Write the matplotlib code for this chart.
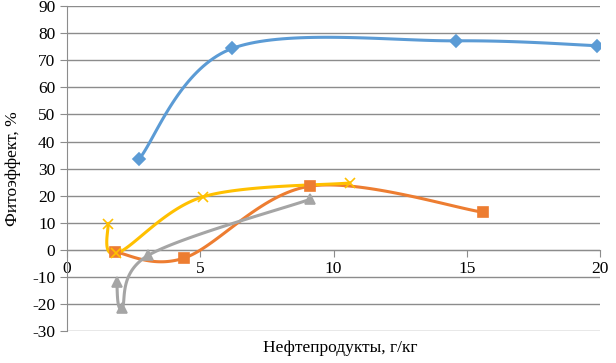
import matplotlib.pyplot as plt
import numpy as np

plt.rcParams['font.family'] = ['Liberation Serif', 'DejaVu Serif']
plt.rcParams['axes.unicode_minus'] = False

# data
x_blue = [2.7, 6.2, 14.6, 19.9]
y_blue = [33.5, 74.4, 77.2, 75.4]

x_orange = [1.8, 4.4, 9.1, 15.6]
y_orange = [-0.8, -3.0, 23.5, 13.9]

x_gray = [1.86, 2.05, 3.05, 9.1]
y_gray = [-11.8, -21.5, -2.0, 18.6]

x_yellow = [1.53, 1.85, 5.1, 10.6]
y_yellow = [9.7, -1.3, 19.6, 24.7]

x_ticks = [0, 5, 10, 15, 20]
y_ticks = [-30, -20, -10, 0, 10, 20, 30, 40, 50, 60, 70, 80, 90]


def smooth(xs, ys, n=40):
    # excel-like smoothed line: catmull-rom as bezier segments
    p = np.column_stack([xs, ys]).astype(float)
    out = []
    for i in range(len(p) - 1):
        p0 = p[i - 1] if i > 0 else p[i]
        p1 = p[i]
        p2 = p[i + 1]
        p3 = p[i + 2] if i + 2 < len(p) else p[i + 1]
        c1 = p1 + (p2 - p0) / 6
        c2 = p2 - (p3 - p1) / 6
        t = np.linspace(0, 1, n)[:, None]
        seg = (1-t)**3*p1 + 3*(1-t)**2*t*c1 + 3*(1-t)*t**2*c2 + t**3*p2
        out.append(seg)
    s = np.vstack(out)
    return s[:, 0], s[:, 1]


fig = plt.figure(figsize=(6.16, 3.63), dpi=100)
ax = fig.add_axes([0.109, 0.088, 0.865, 0.895])

series = [
    (x_blue, y_blue, '#5B9BD5', 'D', 6),
    (x_orange, y_orange, '#ED7D31', 's', 7),
    (x_gray, y_gray, '#A5A5A5', '^', 7),
    (x_yellow, y_yellow, '#FFC000', 'x', 7),
]
for xs, ys, col, mk, ms in series:
    sx, sy = smooth(xs, ys)
    ax.plot(sx, sy, color=col, lw=2.2, zorder=3)
    ax.plot(xs, ys, ls='none', marker=mk, color=col, ms=ms, mew=1.2, zorder=4)

ax.set_xlim(0, 20)
ax.set_ylim(-30, 90)
ax.set_xticks(x_ticks)
ax.set_yticks(y_ticks)
ax.yaxis.grid(True, color='#8c8c8c', lw=1)
ax.set_axisbelow(True)
for s in ['top', 'right']:
    ax.spines[s].set_visible(False)
ax.spines['bottom'].set_position(('data', 0))
ax.spines['bottom'].set_color('#8c8c8c')
ax.spines['left'].set_color('#8c8c8c')
ax.tick_params(axis='both', colors='#8c8c8c', labelcolor='black', labelsize=12.5, length=5)
ax.tick_params(axis='x', pad=3)

ax.set_ylabel('Фитоэффект, %', fontsize=12.5, labelpad=8)
fig.text(0.552, 0.02, 'Нефтепродукты, г/кг', fontsize=12.5, ha='center', va='bottom')

fig.savefig('out.png', dpi=100)
